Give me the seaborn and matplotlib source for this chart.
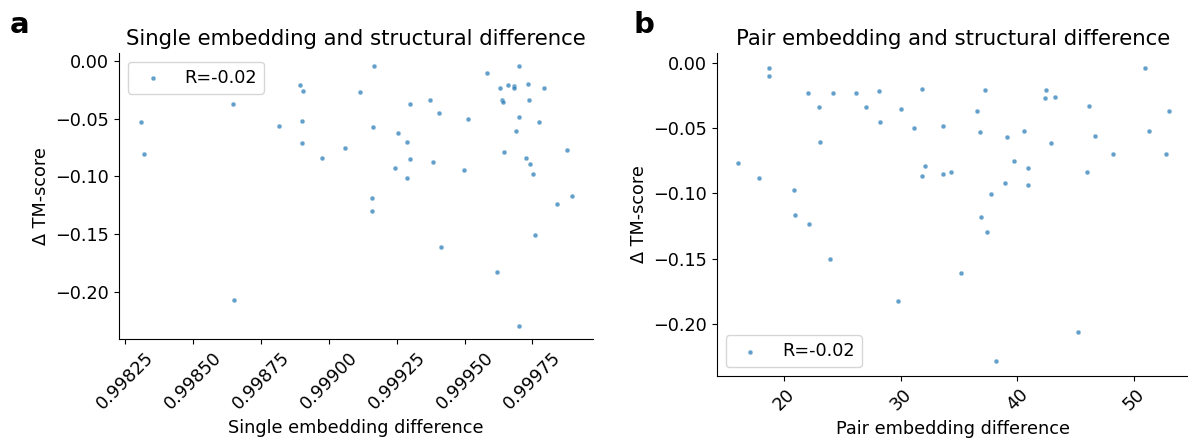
import matplotlib
matplotlib.use("Agg")
import matplotlib.pyplot as plt
import seaborn as sns

# Delta TM-score vs single embedding difference (panel a)
single_diff = [0.998306, 0.998319, 0.998646, 0.998649, 0.998817, 0.998895, 0.998904,
               0.998901, 0.998900, 0.998974, 0.999058, 0.999165, 0.999114, 0.999298,
               0.999373, 0.999404, 0.999163, 0.999256, 0.999289, 0.999297, 0.999244,
               0.999289, 0.999383, 0.999157, 0.999159, 0.999414, 0.999512, 0.999498,
               0.999582, 0.999632, 0.999659, 0.999681, 0.999681, 0.999700, 0.999734,
               0.999793, 0.999637, 0.999640, 0.999736, 0.999701, 0.999775, 0.999689,
               0.999646, 0.999728, 0.999742, 0.999751, 0.999877, 0.999894, 0.999839,
               0.999758, 0.999619, 0.999701]
dtm_single = [-0.0528, -0.0810, -0.0372, -0.2069, -0.0559, -0.0208, -0.0262, -0.0522,
              -0.0707, -0.0843, -0.0756, -0.0043, -0.0271, -0.0372, -0.0334, -0.0453,
              -0.0568, -0.0623, -0.0704, -0.0851, -0.0929, -0.1010, -0.0875, -0.1186,
              -0.1301, -0.1616, -0.0505, -0.0944, -0.0100, -0.0230, -0.0208, -0.0217,
              -0.0236, -0.0043, -0.0202, -0.0236, -0.0338, -0.0352, -0.0338, -0.0485,
              -0.0531, -0.0606, -0.0793, -0.0843, -0.0892, -0.0979, -0.0771, -0.1169,
              -0.1238, -0.1507, -0.1829, -0.2297]

# Delta TM-score vs pair embedding difference (panel b)
pair_diff = [18.72, 18.72, 22.11, 24.25, 26.16, 28.13, 31.84, 22.99, 27.01, 30.01,
             28.21, 31.18, 33.66, 23.08, 16.10, 17.86, 32.10, 31.81, 33.66, 34.29,
             20.89, 21.00, 22.14, 23.97, 35.14, 29.81, 50.94, 37.25, 42.45, 42.36,
             43.24, 36.57, 46.12, 52.93, 36.83, 40.53, 39.11, 42.90, 46.66, 51.28,
             48.14, 52.71, 39.71, 40.91, 45.92, 38.97, 40.93, 37.71, 36.89, 37.43,
             45.15, 38.14]
dtm_pair = [-0.0034, -0.0098, -0.0228, -0.0226, -0.0231, -0.0211, -0.0195, -0.0334,
            -0.0334, -0.0351, -0.0449, -0.0500, -0.0482, -0.0603, -0.0767, -0.0884,
            -0.0790, -0.0867, -0.0849, -0.0838, -0.0972, -0.1167, -0.1234, -0.1505,
            -0.1610, -0.1826, -0.0038, -0.0203, -0.0203, -0.0265, -0.0261, -0.0369,
            -0.0331, -0.0367, -0.0526, -0.0518, -0.0564, -0.0615, -0.0557, -0.0521,
            -0.0697, -0.0700, -0.0749, -0.0805, -0.0838, -0.0923, -0.0936, -0.1005,
            -0.1182, -0.1297, -0.2064, -0.2289]

r_label = 'R=-0.02'

plt.rcParams.update({'font.size': 12.7})

fig = plt.figure(figsize=(11.88, 4.43), dpi=100)
ax_a = fig.add_axes([0.1002, 0.2348, 0.399, 0.6456])
ax_b = fig.add_axes([0.6033, 0.1512, 0.3984, 0.7291])

# Panel a
sns.scatterplot(x=single_diff, y=dtm_single, ax=ax_a, s=12, alpha=0.7,
                color='#1f77b4', label=r_label)
ax_a.set_title('Single embedding and structural difference', fontsize=15.3)
ax_a.set_xlabel('Single embedding difference')
ax_a.set_ylabel('Δ TM-score')
ax_a.tick_params(axis='x', labelrotation=45)
ax_a.legend(loc='upper left')

# Panel b
sns.scatterplot(x=pair_diff, y=dtm_pair, ax=ax_b, s=12, alpha=0.7,
                color='#1f77b4', label=r_label)
ax_b.set_title('Pair embedding and structural difference', fontsize=15.3)
ax_b.set_xlabel('Pair embedding difference')
ax_b.set_ylabel('Δ TM-score')
ax_b.tick_params(axis='x', labelrotation=45)
ax_b.legend(loc='lower left')

sns.despine(fig=fig)

# Panel letters
fig.text(0.0084, 0.925, 'a', fontsize=21, fontweight='bold', va='baseline')
fig.text(0.533, 0.925, 'b', fontsize=21, fontweight='bold', va='baseline')

fig.savefig('out.png', dpi=100)
